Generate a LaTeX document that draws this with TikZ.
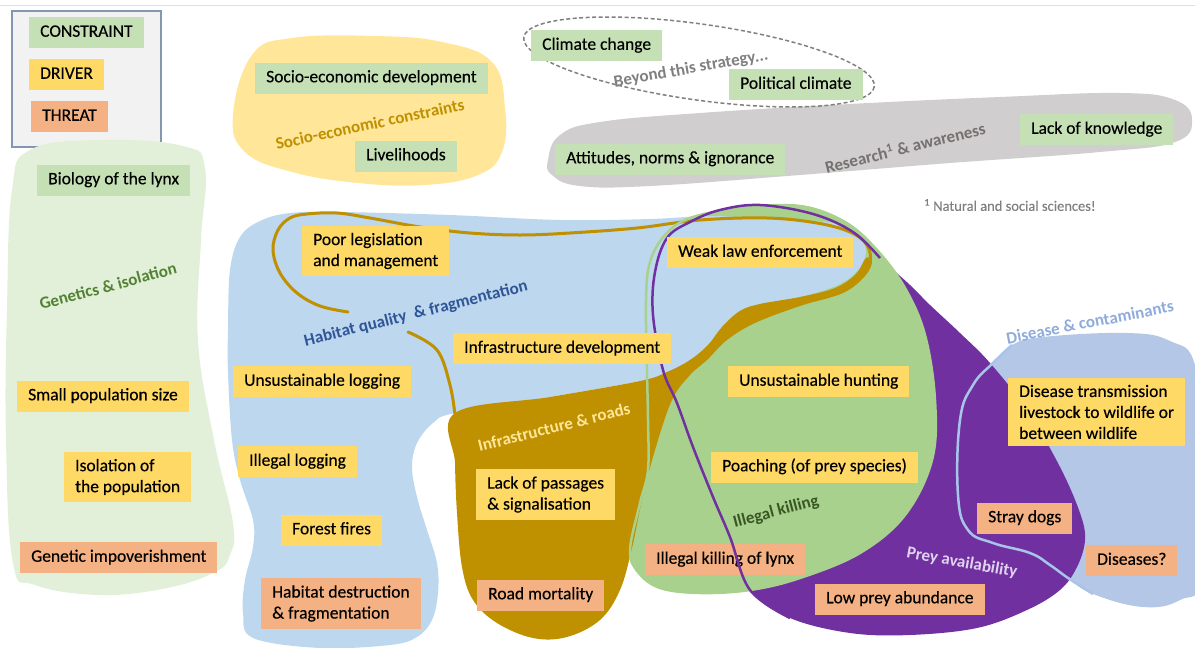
\documentclass[tikz,border=0pt]{standalone}
\usepackage{fontspec}
\setmainfont{Carlito}
\newfontfamily\boxfont{Carlito}[FakeBold=0.35]
\usepackage{tikz}

\definecolor{constraintgreen}{HTML}{C5E0B4}
\definecolor{driveryellow}{HTML}{FFD966}
\definecolor{threatorange}{HTML}{F4B183}
\definecolor{geneticsbg}{HTML}{E2F0D9}
\definecolor{socialbg}{HTML}{FFE699}
\definecolor{researchbg}{HTML}{D0CECE}
\definecolor{habitatbg}{HTML}{BDD7EE}
\definecolor{roadgold}{HTML}{BF9000}
\definecolor{killgreen}{HTML}{A9D18E}
\definecolor{preypurple}{HTML}{7030A0}
\definecolor{diseasebg}{HTML}{B4C7E7}
\definecolor{diseaseline}{HTML}{A9C4E9}
\definecolor{legendedge}{HTML}{8496B0}
\definecolor{geneticstext}{HTML}{548235}
\definecolor{researchtext}{HTML}{767171}
\definecolor{habitattext}{HTML}{2F5597}
\definecolor{killtext}{HTML}{385723}
\definecolor{preytext}{HTML}{E0D3F0}
\definecolor{diseasetext}{HTML}{8FAADC}

\tikzset{
  factor/.style={rectangle, anchor=west, inner xsep=11pt, inner ysep=7.25pt,
    text height=12.5pt, text depth=4pt, font=\boxfont\fontsize{17.5}{21}\selectfont},
  stack/.style={align=left, text height={}, text depth={}, inner ysep=7pt},
  constraint/.style={factor, fill=constraintgreen},
  driver/.style={factor, fill=driveryellow},
  threat/.style={factor, fill=threatorange},
  group/.style={font=\bfseries\fontsize{17}{20}\selectfont},
}

\begin{document}
\begin{tikzpicture}[x=1pt,y=-1pt]
\useasboundingbox (0,0) rectangle (1195,648);
\clip (0,0) rectangle (1195,648);
\draw[gray!25] (0,5) -- (1195,5);

% legend
\draw[fill=gray!10, draw=legendedge, line width=1.2pt] (12,11) rectangle (161,147);
\node[constraint] (legcon) at (29,32.5) {CONSTRAINT};
\node[driver] (legdrv) at (29,74.5) {DRIVER};
\node[threat] (legthr) at (31,116.5) {THREAT};

% groups
\fill[geneticsbg] plot[smooth cycle, tension=0.7] coordinates {(30,150) (100,140) (183,146) (205,168) (201,240) (198,340) (214,440) (233,523) (230,555) (215,572) (167,588) (100,595) (35,585) (13,563) (6,440) (7,307) (12,190)};
\fill[socialbg] plot[smooth cycle, tension=0.7] coordinates {(233,115) (252,55) (292,38) (375,36) (442,42) (492,62) (505,108) (502,152) (478,175) (425,185) (358,183) (292,172) (245,152)};
\fill[researchbg] plot[smooth cycle, tension=0.7] coordinates {(548,160) (560,135) (600,122) (700,113) (850,104) (1000,97) (1120,93) (1175,100) (1192,120) (1175,142) (1100,152) (950,163) (800,175) (650,186) (580,186) (552,175)};
\draw[gray, dashed, line width=1.5pt, dash pattern=on 4pt off 2.5pt] (699,62) ellipse [x radius=177, y radius=38, rotate=-8];

\fill[diseasebg] plot[smooth cycle, tension=0.7] coordinates {(993,363) (1012,345) (1043,337) (1127,333) (1170,341) (1195,365) (1202,450) (1202,575) (1180,600) (1143,607) (1093,594) (1068,578) (1050,565) (1030,553) (993,543) (968,530) (958,495) (960,420) (973,385)};
\fill[preypurple] plot[smooth cycle, tension=0.6] coordinates {(760,205) (813,214) (853,232) (880,258) (910,285) (930,305) (960,333) (990,363) (1027,410) (1060,467) (1080,513) (1085,540) (1077,567) (1060,590) (1027,610) (977,628) (910,635) (850,633) (790,618) (750,590) (730,537) (713,497) (693,447) (677,403) (663,370) (653,315) (655,272) (667,238) (690,222) (720,210)};
\draw[diseaseline, line width=2.5pt] plot[smooth, tension=0.7] coordinates {(1012,345) (993,363) (973,385) (960,420) (958,495) (968,530) (993,543) (1030,553) (1050,565) (1068,578) (1093,594)};
\fill[killgreen] plot[smooth cycle, tension=0.6] coordinates {(690,218) (740,208) (800,206) (845,222) (877,250) (905,288) (925,335) (935,400) (932,460) (905,515) (860,553) (800,578) (750,590) (700,593) (660,588) (638,572) (630,550) (640,503) (648,470) (648,420) (647,370) (646,300) (650,262) (665,235)};
\fill[habitatbg] plot[smooth cycle, tension=0.6] coordinates {(228,330) (230,270) (240,237) (260,221) (290,213) (340,212) (450,215) (560,220) (650,219) (710,216) (767,219) (833,223) (858,234) (866,252) (858,270) (838,285) (800,297) (760,304) (738,312) (722,328) (708,348) (690,362) (667,373) (640,381) (550,397) (455,413) (433,423) (417,443) (412,467) (417,497) (427,530) (437,563) (438,593) (432,620) (417,637) (390,645) (320,648) (253,638) (243,613) (245,580) (253,547) (253,520) (240,480) (232,440) (228,373)};
\fill[roadgold] plot[smooth cycle, tension=0.6] coordinates {(455,413) (550,397) (640,381) (667,372) (690,360) (708,345) (722,327) (740,311) (760,304) (800,297) (835,288) (856,274) (866,258) (872,262) (865,276) (843,293) (800,306) (755,323) (727,340) (707,360) (690,375) (672,400) (655,450) (642,500) (632,548) (620,590) (600,620) (567,637) (533,638) (497,623) (473,600) (462,567) (457,513) (455,463)};
\draw[roadgold, line width=3pt, line cap=round] plot[smooth, tension=0.6] coordinates {(348,312) (320,306) (297,293) (280,273) (273,250) (278,230) (290,218) (307,214) (337,213) (370,218) (420,227) (470,233) (520,235) (570,233) (637,228) (700,220) (767,218) (817,223) (850,232) (867,245) (870,262) (860,278)};
\draw[roadgold, line width=3pt, line cap=round] plot[smooth, tension=0.6] coordinates {(408,332) (437,350) (450,385) (455,415)};
\draw[killgreen, line width=2.5pt] plot[smooth cycle, tension=0.6] coordinates {(690,218) (740,208) (800,206) (845,222) (877,250) (905,288) (925,335) (935,400) (932,460) (905,515) (860,553) (800,578) (750,590) (700,593) (660,588) (638,572) (630,550) (640,503) (648,470) (648,420) (647,370) (646,300) (650,262) (665,235)};

\node[threat] (killlynx) at (645,559.5) {Illegal killing of lynx};
\draw[preypurple, line width=2.5pt] plot[smooth, tension=0.6] coordinates {(880,258) (853,232) (813,214) (760,205) (720,210) (690,222) (667,238) (655,272) (653,315) (663,370) (677,403) (693,447) (713,497) (730,537) (750,590) (790,618)};

% group labels
\node[group, text=geneticstext, rotate=15] (lblgenetics) at (108,286) {Genetics \& isolation};
\node[group, text=roadgold, rotate=12] (lblsocial) at (370,124) {Socio-economic constraints};
\node[group, text=gray, rotate=10] (lblbeyond) at (691,69) {Beyond this strategy...};
\node[group, text=researchtext, rotate=14] (lblresearch) at (905,147) {Research\textsuperscript{1} \& awareness};
\node[text=gray, font=\boxfont\fontsize{14.5}{17}\selectfont] (footnote) at (1010,205) {\textsuperscript{1} Natural and social sciences!};
\node[group, text=habitattext, rotate=14] (lblhabitat) at (416,314) {Habitat quality \ \& fragmentation};
\node[group, text=socialbg, rotate=14] (lblroads) at (554,427) {Infrastructure \& roads};
\node[group, text=killtext, rotate=15] (lblkilling) at (776,512) {Illegal killing};
\node[group, text=preytext, rotate=-10] (lblprey) at (962,563) {Prey availability};
\node[group, text=diseasetext, rotate=11] (lbldisease) at (1090,322) {Disease \& contaminants};

% constraints
\node[constraint] (biology) at (37,180) {Biology of the lynx};
\node[constraint] (socdev) at (255,78) {Socio-economic development};
\node[constraint] (livelihoods) at (355,156) {Livelihoods};
\node[constraint] (climate) at (531,45.5) {Climate change};
\node[constraint] (political) at (729,84.5) {Political climate};
\node[constraint] (attitudes) at (555,159) {Attitudes, norms \& ignorance};
\node[constraint] (knowledge) at (1020,129.5) {Lack of knowledge};

% drivers
\node[driver] (smallpop) at (17,396) {Small population size};
\node[driver, stack] (isolation) at (64,477) {Isolation of\\the population};
\node[driver, stack] (legislation) at (302,251) {Poor legislation\\and management};
\node[driver] (unlogging) at (233,381.5) {Unsustainable logging};
\node[driver] (illlogging) at (238,461.5) {Illegal logging};
\node[driver] (fires) at (281,530) {Forest fires};
\node[driver] (infradev) at (453,348.5) {Infrastructure development};
\node[driver, stack] (passages) at (476,494.5) {Lack of passages\\\& signalisation};
\node[driver] (lawenf) at (667,252.5) {Weak law enforcement};
\node[driver] (unhunting) at (728,381.5) {Unsustainable hunting};
\node[driver] (poaching) at (711,467) {Poaching (of prey species)};
\node[driver, stack] (transmission) at (1008,412) {Disease transmission\\livestock to wildlife or\\between wildlife};

% threats
\node[threat] (impoverish) at (20,557.5) {Genetic impoverishment};
\node[threat, stack] (habdestr) at (261,603.5) {Habitat destruction\\\& fragmentation};
\node[threat] (roadmort) at (477,595) {Road mortality};
\node[threat] (lowprey) at (815,599) {Low prey abundance};
\node[threat] (straydogs) at (977,518) {Stray dogs};
\node[threat] (diseases) at (1086,560.5) {Diseases?};
\end{tikzpicture}
\end{document}
